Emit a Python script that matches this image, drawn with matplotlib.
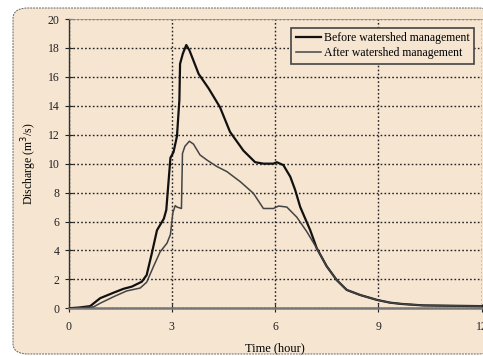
import numpy as np
import matplotlib.pyplot as plt
from matplotlib.patches import FancyBboxPatch

# Hydrograph data (time in hours, discharge in m3/s)
t_before = [0, 0.3, 0.63, 0.92, 1.31, 1.6, 1.84, 2.13, 2.27, 2.42, 2.57, 2.77, 2.84, 2.91, 2.96,
            3.05, 3.15, 3.22, 3.24, 3.32, 3.42, 3.51, 3.78, 4.07, 4.40, 4.69, 5.08, 5.42, 5.66,
            5.95, 6.05, 6.24, 6.44, 6.58, 6.73, 7.02, 7.21, 7.5, 7.79, 8.08, 8.47, 8.96, 9.34,
            9.68, 10.3, 12]
q_before = [0, 0.05, 0.15, 0.7, 1.08, 1.35, 1.5, 1.84, 2.3, 3.8, 5.4, 6.2, 6.8, 8.9, 10.4,
            10.8, 11.9, 14.4, 16.9, 17.6, 18.2, 17.85, 16.2, 15.2, 13.9, 12.2, 10.9, 10.1, 10.0,
            10.0, 10.1, 9.9, 9.1, 8.2, 7.0, 5.4, 4.15, 2.9, 1.95, 1.27, 0.92, 0.58, 0.39,
            0.3, 0.2, 0.15]

t_after = [0, 0.3, 0.73, 0.92, 1.31, 1.69, 2.08, 2.27, 2.47, 2.66, 2.86, 2.96, 3.03, 3.10, 3.15,
           3.28, 3.31, 3.38, 3.51, 3.63, 3.82, 4.02, 4.31, 4.6, 4.99, 5.37, 5.66, 5.95, 6.1,
           6.34, 6.63, 6.92, 7.21, 7.5, 7.79, 8.08, 8.47, 8.96, 9.34, 9.68, 10.3, 12]
q_after = [0, 0.03, 0.1, 0.35, 0.8, 1.2, 1.4, 1.8, 2.9, 3.9, 4.5, 5.1, 6.6, 7.1, 7.0,
           6.9, 10.7, 11.2, 11.55, 11.35, 10.6, 10.25, 9.8, 9.45, 8.75, 7.95, 6.9, 6.9, 7.07,
           7.0, 6.3, 5.3, 4.15, 2.9, 1.95, 1.27, 0.92, 0.58, 0.39, 0.3, 0.2, 0.15]

x_ticks = [0, 3, 6, 9, 12]
y_ticks = list(range(0, 21, 2))

bg = '#f5e5d1'
plt.rcParams['font.family'] = ['Liberation Serif', 'DejaVu Serif']

fig = plt.figure(figsize=(4.83, 3.56), dpi=100)
fig.patch.set_facecolor('white')

# rounded beige panel behind the chart
box = FancyBboxPatch((13 / 483, 2 / 356), 480 / 483, 346 / 356,
                     boxstyle='round,pad=0,rounding_size=0.03',
                     transform=fig.transFigure, facecolor=bg, edgecolor='#666666',
                     linewidth=0.7, linestyle=(0, (2, 1)), zorder=-10)
fig.patches.append(box)

ax = fig.add_axes([68.5 / 483, 47.7 / 356, 413.2 / 483, 289.3 / 356])
ax.set_zorder(5)
ax.set_facecolor('none')

ax.plot(t_before, q_before, color='#111111', lw=1.6, label='Before watershed management', zorder=3)
ax.plot(t_after, q_after, color='#444444', lw=1.1, label='After watershed management', zorder=3)

ax.set_xlim(0, 12)
ax.set_ylim(0, 20)
ax.set_xticks(x_ticks)
ax.set_yticks(y_ticks)
ax.tick_params(direction='inout', length=6, width=0.8, labelsize=8.5, colors='#222222')
ax.tick_params(axis='x', pad=6)

ax.grid(True, color='#222222', linestyle=(0, (1.2, 1.6)), linewidth=1.0)
ax.spines['right'].set_visible(False)
ax.spines['top'].set_color('#999999')
ax.spines['top'].set_linewidth(0.6)
ax.spines['left'].set_color('#333333')
ax.spines['left'].set_linewidth(1.0)
ax.spines['bottom'].set_color('#777777')
ax.spines['bottom'].set_linewidth(1.8)

ax.set_xlabel('Time (hour)', fontsize=9, labelpad=7)
ax.set_ylabel('Discharge (m$^3$/s)', fontsize=8.5, labelpad=6)

leg = ax.legend(loc='upper right', bbox_to_anchor=(0.995, 0.99), fontsize=8.5, frameon=True,
                fancybox=False, edgecolor='#444444', facecolor=bg, framealpha=1,
                handlelength=2.2, handletextpad=0.2, borderpad=0.35, labelspacing=0.3)
leg.get_frame().set_linewidth(1.2)

fig.savefig('out.png', dpi=100, facecolor='white')
